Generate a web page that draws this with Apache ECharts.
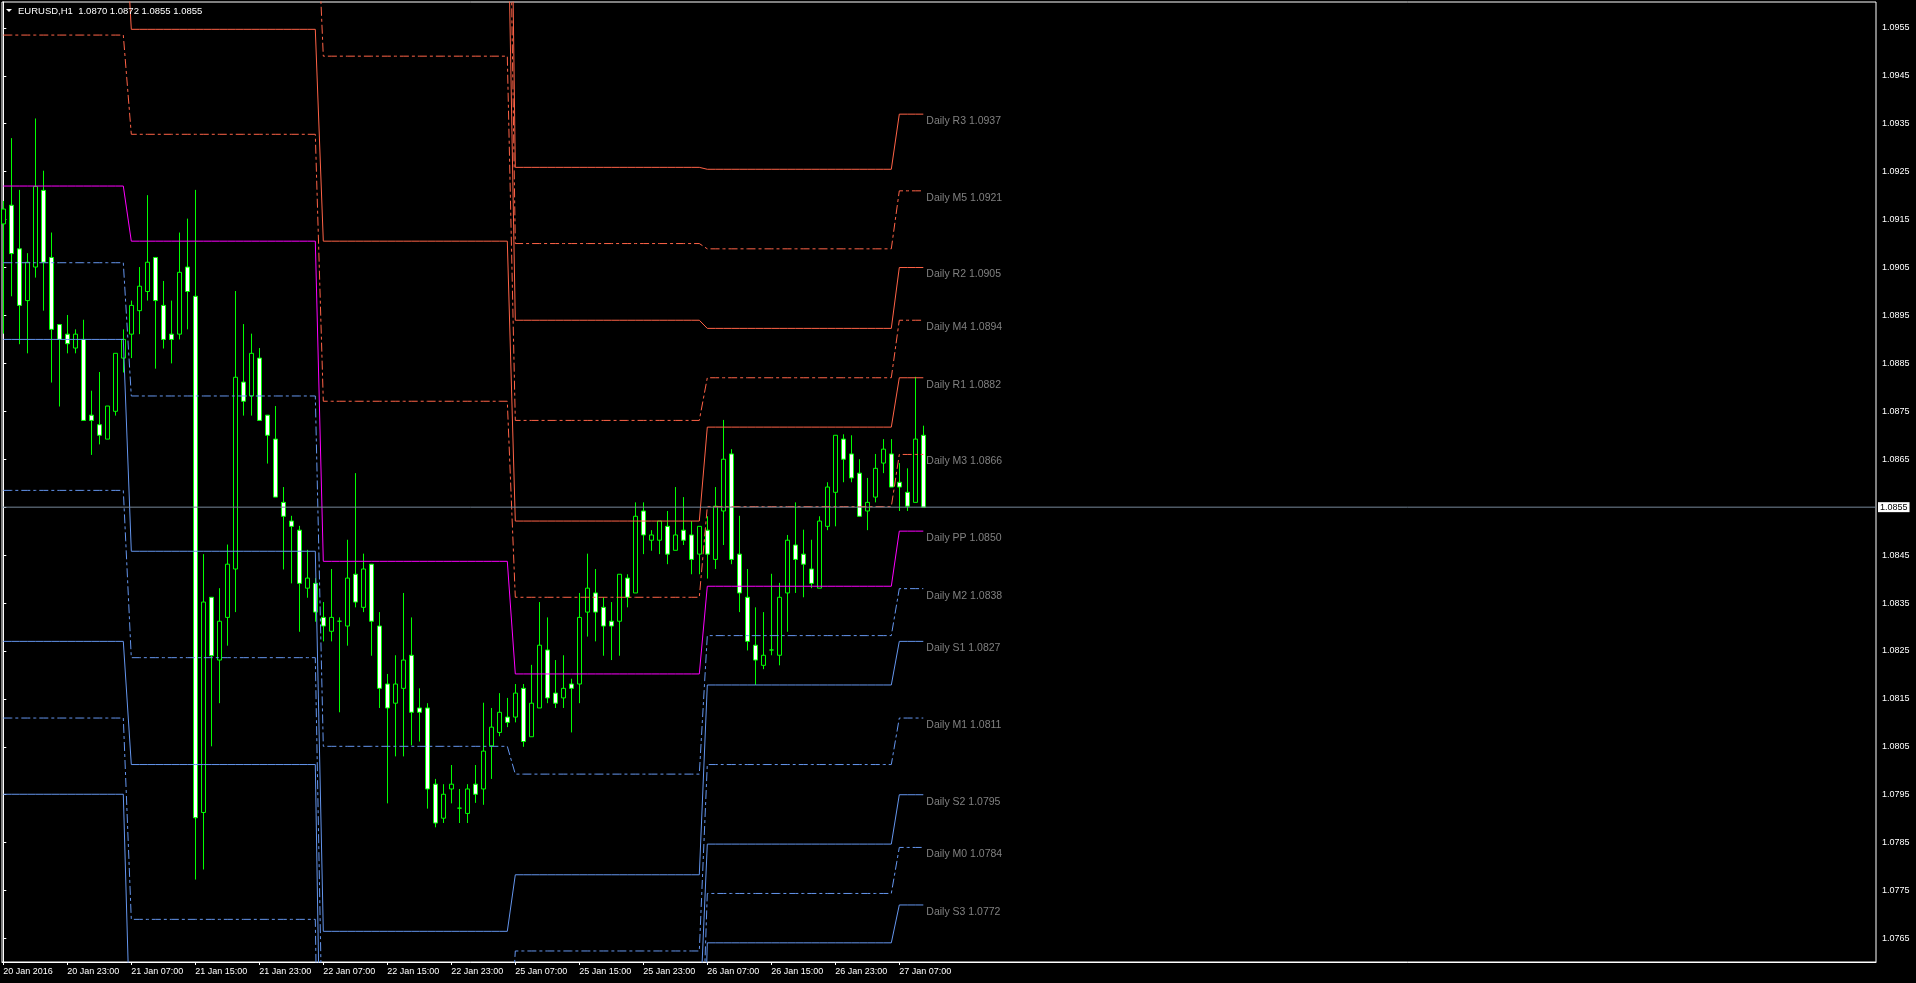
<!DOCTYPE html>
<html><head><meta charset="utf-8">
<script src="https://cdn.jsdelivr.net/npm/echarts@6/dist/echarts.min.js"></script>
<style>html,body{margin:0;padding:0;background:#000;overflow:hidden}#c{width:1916px;height:983px}</style>
</head><body><div id="c"></div>
<script>
// ---- candle data (EURUSD H1, 20 Jan 15:00 .. 27 Jan 10:00) ----
const openP=[1.09141,1.09180,1.09089,1.08981,1.09051,1.09211,1.09071,1.08931,1.08911,1.08882,
1.08900,1.08742,1.08722,1.08692,1.08750,1.08861,1.08911,1.08960,1.09000,1.09071,
1.08971,1.08911,1.08911,1.09051,1.08990,1.07913,1.08362,1.08231,1.08320,1.08421,
1.08811,1.08782,1.08861,1.08742,1.08692,1.08560,1.08521,1.08502,1.08381,1.08391,
1.08320,1.08291,1.08312,1.08302,1.08410,1.08341,1.08431,1.08302,1.08181,1.08141,
1.08172,1.08241,1.08131,1.08131,1.07972,1.07901,1.07962,1.07922,1.07911,1.07972,
1.07962,1.08052,1.08080,1.08112,1.08112,1.08172,1.08071,1.08131,1.08252,1.08162,
1.08152,1.08181,1.08181,1.08331,1.08371,1.08341,1.08312,1.08312,1.08402,1.08371,
1.08542,1.08481,1.08481,1.08510,1.08460,1.08502,1.08492,1.08452,1.08502,1.08441,
1.08542,1.08661,1.08452,1.08362,1.08262,1.08220,1.08252,1.08241,1.08371,1.08471,
1.08452,1.08421,1.08381,1.08510,1.08581,1.08692,1.08661,1.08621,1.08542,1.08571,
1.08642,1.08661,1.08602,1.08581,1.08560,1.08700];
const highP=[1.09189,1.09320,1.09212,1.09080,1.09361,1.09252,1.09123,1.08931,1.08951,1.08921,
1.08941,1.08793,1.08832,1.08761,1.08871,1.08921,1.08981,1.09051,1.09201,1.09071,
1.09022,1.08981,1.09123,1.09152,1.09212,1.08452,1.08362,1.08381,1.08472,1.09001,
1.08932,1.08912,1.08882,1.08742,1.08761,1.08592,1.08532,1.08511,1.08461,1.08402,
1.08352,1.08421,1.08320,1.08482,1.08621,1.08453,1.08431,1.08331,1.08202,1.08241,
1.08371,1.08320,1.08172,1.08141,1.07983,1.07972,1.08012,1.07962,1.07972,1.08012,
1.08142,1.08131,1.08162,1.08152,1.08181,1.08181,1.08221,1.08352,1.08320,1.08231,
1.08241,1.08192,1.08371,1.08453,1.08421,1.08362,1.08352,1.08410,1.08410,1.08560,
1.08560,1.08502,1.08521,1.08542,1.08592,1.08571,1.08521,1.08510,1.08531,1.08592,
1.08732,1.08671,1.08532,1.08421,1.08341,1.08331,1.08411,1.08392,1.08492,1.08560,
1.08503,1.08482,1.08531,1.08602,1.08700,1.08702,1.08700,1.08650,1.08611,1.08661,
1.08692,1.08692,1.08642,1.08631,1.08822,1.08720];
const lowP=[1.08912,1.08990,1.08890,1.08871,1.09029,1.08960,1.08810,1.08760,1.08871,1.08871,
1.08731,1.08659,1.08681,1.08692,1.08741,1.08831,1.08861,1.08911,1.08981,1.08839,
1.08881,1.08850,1.08900,1.08921,1.07773,1.07794,1.08051,1.08141,1.08261,1.08331,
1.08741,1.08741,1.08731,1.08641,1.08571,1.08420,1.08391,1.08290,1.08361,1.08311,
1.08270,1.08270,1.08122,1.08261,1.08341,1.08331,1.08240,1.08131,1.07932,1.08030,
1.08030,1.08053,1.08061,1.07921,1.07882,1.07891,1.07932,1.07891,1.07891,1.07933,
1.07929,1.07983,1.08072,1.08091,1.08101,1.08050,1.08071,1.08131,1.08141,1.08131,
1.08131,1.08080,1.08141,1.08280,1.08270,1.08240,1.08231,1.08240,1.08341,1.08371,
1.08452,1.08459,1.08452,1.08431,1.08460,1.08471,1.08410,1.08410,1.08401,1.08421,
1.08471,1.08431,1.08331,1.08251,1.08179,1.08212,1.08241,1.08220,1.08290,1.08371,
1.08362,1.08381,1.08381,1.08502,1.08510,1.08602,1.08602,1.08531,1.08502,1.08560,
1.08621,1.08592,1.08542,1.08542,1.08560,1.08550];
const closeP=[1.09172,1.09079,1.08971,1.09061,1.09219,1.09061,1.08921,1.08900,1.08891,1.08911,
1.08731,1.08731,1.08700,1.08761,1.08871,1.08900,1.08971,1.09011,1.09061,1.08981,
1.08900,1.08900,1.09040,1.09000,1.07902,1.08352,1.08240,1.08312,1.08431,1.08821,
1.08771,1.08871,1.08731,1.08700,1.08571,1.08531,1.08510,1.08391,1.08402,1.08331,
1.08302,1.08320,1.08312,1.08402,1.08352,1.08421,1.08312,1.08172,1.08131,1.08181,
1.08231,1.08122,1.08122,1.07962,1.07891,1.07951,1.07972,1.07922,1.07962,1.07951,
1.08041,1.08091,1.08122,1.08101,1.08162,1.08061,1.08141,1.08262,1.08152,1.08141,
1.08172,1.08172,1.08320,1.08381,1.08331,1.08302,1.08302,1.08410,1.08362,1.08531,
1.08492,1.08492,1.08521,1.08452,1.08492,1.08481,1.08441,1.08510,1.08452,1.08552,
1.08650,1.08441,1.08371,1.08270,1.08231,1.08241,1.08252,1.08362,1.08481,1.08441,
1.08431,1.08391,1.08521,1.08592,1.08700,1.08650,1.08611,1.08531,1.08560,1.08631,
1.08671,1.08592,1.08592,1.08552,1.08692,1.08550];

// ---- time axis ----
const tickIdx=[0,8,16,24,32,40,48,56,64,72,80,88,96,104,112];
const tickLabels=['20 Jan 2016','20 Jan 23:00','21 Jan 07:00','21 Jan 15:00','21 Jan 23:00','22 Jan 07:00','22 Jan 15:00','22 Jan 23:00','25 Jan 07:00','25 Jan 15:00','25 Jan 23:00','26 Jan 07:00','26 Jan 15:00','26 Jan 23:00','27 Jan 07:00'];
// ---- price axis ----
const priceTicks=[1.0765,1.0775,1.0785,1.0795,1.0805,1.0815,1.0825,1.0835,1.0845,1.0855,1.0865,1.0875,1.0885,1.0895,1.0905,1.0915,1.0925,1.0935,1.0945,1.0955];
const lastPrice=1.0855;
const headerText='EURUSD,H1  1.0870 1.0872 1.0855 1.0855';

// ---- daily pivot levels (one value per pivot day) ----
const dayBars=[16,24,24,24,24,4];
const R3=[1.10800,1.10642,1.10545,1.09259,1.09255,1.0937];
const M5=[1.10485,1.10420,1.10211,1.09100,1.09089,1.0921];
const R2=[1.10170,1.10197,1.09877,1.08940,1.08923,1.0905];
const M4=[1.10010,1.09874,1.09491,1.08731,1.08820,1.0894];
const R1=[1.09850,1.09547,1.09105,1.08521,1.08717,1.0882];
const M3=[1.09535,1.09328,1.08771,1.08362,1.08551,1.0866];
const PP=[1.09220,1.09105,1.08437,1.08202,1.08385,1.0850];
const M2=[1.09060,1.08782,1.08051,1.07993,1.08282,1.0838];
const S1=[1.08900,1.08458,1.07665,1.07783,1.08179,1.0827];
const M1=[1.08585,1.08236,1.07331,1.07624,1.08013,1.0811];
const S2=[1.08270,1.08013,1.06997,1.07464,1.07847,1.0795];
const M0=[1.08110,1.07690,1.06611,1.07255,1.07744,1.0784];
const S3=[1.07951,1.07366,1.06225,1.07045,1.07641,1.0772];

const RED='#FF6347', BLUE='#6495ED', MAG='#FF00FF';
const levels=[
 {n:'R3',v:R3,c:RED,d:false},{n:'M5',v:M5,c:RED,d:true},{n:'R2',v:R2,c:RED,d:false},
 {n:'M4',v:M4,c:RED,d:true},{n:'R1',v:R1,c:RED,d:false},{n:'M3',v:M3,c:RED,d:true},
 {n:'PP',v:PP,c:MAG,d:false},{n:'M2',v:M2,c:BLUE,d:true},{n:'S1',v:S1,c:BLUE,d:false},
 {n:'M1',v:M1,c:BLUE,d:true},{n:'S2',v:S2,c:BLUE,d:false},{n:'M0',v:M0,c:BLUE,d:true},
 {n:'S3',v:S3,c:BLUE,d:false}];

const X_MIN=-0.1625, X_MAX=234.0875;

function expand(vals){
  const out=[]; let i=0;
  dayBars.forEach((cnt,d)=>{for(let k=0;k<cnt;k++){out.push([i,vals[d]]);i++;}});
  return out;
}

const FONT='"Liberation Sans", Arial, sans-serif';
const series=[];
series.push({
  type:'candlestick',
  data:openP.map((o,i)=>[i,o,closeP[i],lowP[i],highP[i]]),
  encode:{x:0,y:[1,2,3,4]},
  barWidth:4,
  z:2,
  animation:false,
  itemStyle:{color:'#000',color0:'#fff',borderColor:'#00FF00',borderColor0:'#00FF00',borderWidth:1}
});
// current bid line across the whole chart
series.push({
  type:'line',name:'bid',data:[[X_MIN,lastPrice],[X_MAX,lastPrice]],symbol:'none',showSymbol:false,
  clip:false,animation:false,silent:true,z:4,
  lineStyle:{color:'#778899',width:1,type:'solid'},
  endLabel:{show:true,formatter:lastPrice.toFixed(4),distance:2,
    color:'#000',backgroundColor:'#fff',padding:[1,2,0,2],fontSize:9,fontFamily:FONT}
});
levels.forEach(L=>{
  const last=L.v[L.v.length-1];
  series.push({
    type:'line',name:L.n,data:expand(L.v),symbol:'none',showSymbol:false,
    clip:true,animation:false,silent:true,z:3,
    lineStyle:{color:L.c,width:1,type:L.d?[9,3,3,3]:'solid'},
    endLabel:{show:true,formatter:'Daily '+L.n+' '+last.toFixed(4),color:'#808080',
      fontSize:10.5,fontFamily:FONT,distance:3,offset:[0,7]}
  });
});

const chart=echarts.init(document.getElementById('c'),null,{renderer:'canvas'});
chart.setOption({
  backgroundColor:'#000',
  animation:false,
  grid:{left:2,top:2,right:40,bottom:21,show:true,borderColor:'#fff',borderWidth:1,backgroundColor:'transparent'},
  xAxis:{type:'value',min:X_MIN,max:X_MAX,
    axisLine:{show:true,lineStyle:{color:'#fff'}},
    splitLine:{show:false},
    axisTick:{show:true,length:3,lineStyle:{color:'#fff'},customValues:tickIdx},
    axisLabel:{show:true,customValues:tickIdx,color:'#fff',fontSize:9,fontFamily:FONT,margin:5,align:'left',
      formatter:v=>{const k=tickIdx.indexOf(Math.round(v));return k>=0?tickLabels[k]:'';}}
  },
  yAxis:{type:'value',position:'right',min:1.07601,max:1.09604,scale:true,
    axisLine:{show:true,lineStyle:{color:'#fff'}},
    splitLine:{show:false},
    axisTick:{show:true,length:3,lineStyle:{color:'#fff'},customValues:priceTicks},
    axisLabel:{show:true,customValues:priceTicks,color:'#fff',fontSize:9,fontFamily:FONT,margin:6,
      formatter:v=>Math.abs(v-lastPrice)<1e-6?'':v.toFixed(4)}
  },
  graphic:[
    {type:'polygon',shape:{points:[[6,9],[12,9],[9,12]]},style:{fill:'#fff'},z:10},
    {type:'text',style:{text:headerText,x:18,y:11,verticalAlign:'middle',fill:'#fff',font:'9.5px '+FONT},z:10}
  ],
  series:series
});
</script></body></html>
